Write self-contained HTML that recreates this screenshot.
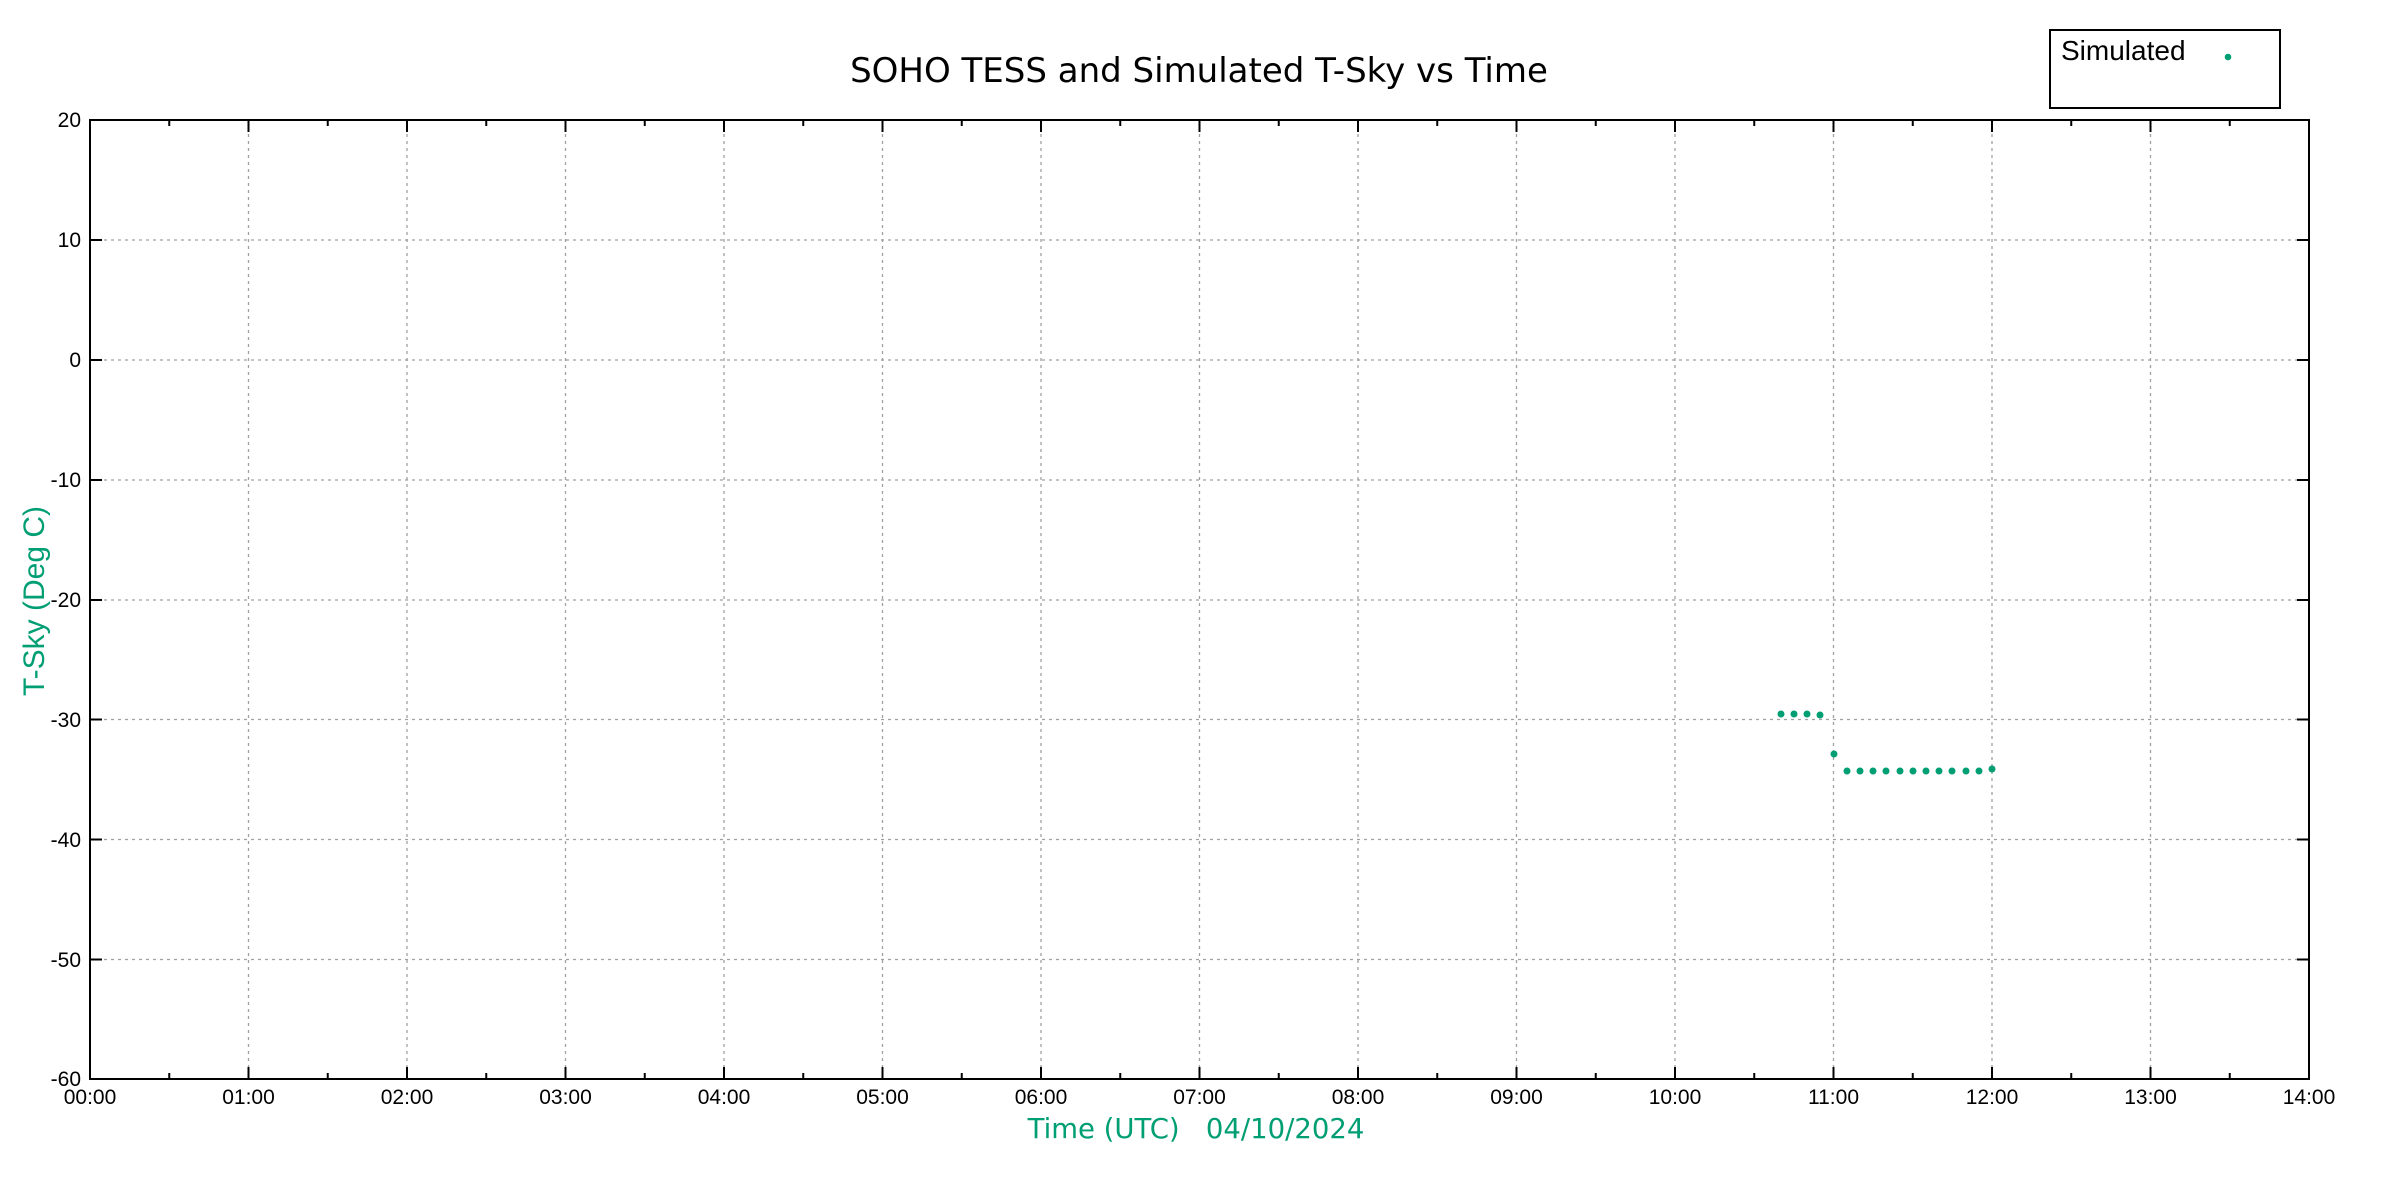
<!DOCTYPE html>
<html><head><meta charset="utf-8"><style>
html,body{margin:0;padding:0;background:#fff;}
svg{display:block;}
</style></head><body>
<svg width="2400" height="1200" xmlns="http://www.w3.org/2000/svg">
<rect width="2400" height="1200" fill="#fff"/>
<g stroke="#a0a0a0" stroke-width="1.3" stroke-dasharray="3,4">
<line x1="248.5" y1="120" x2="248.5" y2="1079"/>
<line x1="407" y1="120" x2="407" y2="1079"/>
<line x1="565.5" y1="120" x2="565.5" y2="1079"/>
<line x1="724" y1="120" x2="724" y2="1079"/>
<line x1="882.5" y1="120" x2="882.5" y2="1079"/>
<line x1="1041" y1="120" x2="1041" y2="1079"/>
<line x1="1199.5" y1="120" x2="1199.5" y2="1079"/>
<line x1="1358" y1="120" x2="1358" y2="1079"/>
<line x1="1516.5" y1="120" x2="1516.5" y2="1079"/>
<line x1="1675" y1="120" x2="1675" y2="1079"/>
<line x1="1833.5" y1="120" x2="1833.5" y2="1079"/>
<line x1="1992" y1="120" x2="1992" y2="1079"/>
<line x1="2150.5" y1="120" x2="2150.5" y2="1079"/>
<line x1="90" y1="240" x2="2309" y2="240"/>
<line x1="90" y1="360" x2="2309" y2="360"/>
<line x1="90" y1="480" x2="2309" y2="480"/>
<line x1="90" y1="600" x2="2309" y2="600"/>
<line x1="90" y1="719.5" x2="2309" y2="719.5"/>
<line x1="90" y1="839.5" x2="2309" y2="839.5"/>
<line x1="90" y1="959.5" x2="2309" y2="959.5"/>
</g>
<g stroke="#000" stroke-width="2">
<path d="M248.5 1079v-12M407 1079v-12M565.5 1079v-12M724 1079v-12M882.5 1079v-12M1041 1079v-12M1199.5 1079v-12M1358 1079v-12M1516.5 1079v-12M1675 1079v-12M1833.5 1079v-12M1992 1079v-12M2150.5 1079v-12
M248.5 120v12M407 120v12M565.5 120v12M724 120v12M882.5 120v12M1041 120v12M1199.5 120v12M1358 120v12M1516.5 120v12M1675 120v12M1833.5 120v12M1992 120v12M2150.5 120v12"/>
<path d="M169.25 1079v-6M327.75 1079v-6M486.25 1079v-6M644.75 1079v-6M803.25 1079v-6M961.75 1079v-6M1120.25 1079v-6M1278.75 1079v-6M1437.25 1079v-6M1595.75 1079v-6M1754.25 1079v-6M1912.75 1079v-6M2071.25 1079v-6M2229.75 1079v-6
M169.25 120v6M327.75 120v6M486.25 120v6M644.75 120v6M803.25 120v6M961.75 120v6M1120.25 120v6M1278.75 120v6M1437.25 120v6M1595.75 120v6M1754.25 120v6M1912.75 120v6M2071.25 120v6M2229.75 120v6"/>
<path d="M90 240h12M90 360h12M90 480h12M90 600h12M90 719.5h12M90 839.5h12M90 959.5h12
M2309 240h-12M2309 360h-12M2309 480h-12M2309 600h-12M2309 719.5h-12M2309 839.5h-12M2309 959.5h-12"/>
<rect x="90" y="120" width="2219" height="959" fill="none"/>
<rect x="2050" y="30" width="230" height="78" fill="none"/>
</g>
<g font-family="Liberation Sans, sans-serif" font-size="21" fill="#000" text-anchor="end">
<text x="81" y="127">20</text>
<text x="81" y="247">10</text>
<text x="81" y="367">0</text>
<text x="81" y="487">-10</text>
<text x="81" y="607">-20</text>
<text x="81" y="727">-30</text>
<text x="81" y="847">-40</text>
<text x="81" y="967">-50</text>
<text x="81" y="1086">-60</text>
</g>
<g font-family="Liberation Sans, sans-serif" font-size="21" fill="#000" text-anchor="middle">
<text x="90" y="1104">00:00</text>
<text x="248.5" y="1104">01:00</text>
<text x="407" y="1104">02:00</text>
<text x="565.5" y="1104">03:00</text>
<text x="724" y="1104">04:00</text>
<text x="882.5" y="1104">05:00</text>
<text x="1041" y="1104">06:00</text>
<text x="1199.5" y="1104">07:00</text>
<text x="1358" y="1104">08:00</text>
<text x="1516.5" y="1104">09:00</text>
<text x="1675" y="1104">10:00</text>
<text x="1833.5" y="1104">11:00</text>
<text x="1992" y="1104">12:00</text>
<text x="2150.5" y="1104">13:00</text>
<text x="2309" y="1104">14:00</text>
</g>
<text x="1199" y="82" text-anchor="middle" font-family="DejaVu Sans, sans-serif" font-size="34" fill="#000">SOHO TESS and Simulated T-Sky vs Time</text>
<text x="1196" y="1138" text-anchor="middle" font-family="DejaVu Sans, sans-serif" font-size="27.5" fill="#009e73" xml:space="preserve">Time (UTC)   04/10/2024</text>
<text transform="translate(44,601) rotate(-90)" text-anchor="middle" font-family="Liberation Sans, sans-serif" font-size="30" fill="#009e73">T-Sky (Deg C)</text>
<text x="2061" y="60" font-family="Liberation Sans, sans-serif" font-size="28" fill="#000">Simulated</text>
<g fill="#009e73">
<circle cx="2228" cy="57" r="3.3"/>
<circle cx="1781" cy="714" r="3.5"/>
<circle cx="1794" cy="714" r="3.5"/>
<circle cx="1807" cy="714" r="3.5"/>
<circle cx="1820" cy="715" r="3.5"/>
<circle cx="1834" cy="754" r="3.5"/>
<circle cx="1847" cy="771" r="3.5"/>
<circle cx="1860" cy="771" r="3.5"/>
<circle cx="1873" cy="771" r="3.5"/>
<circle cx="1886" cy="771" r="3.5"/>
<circle cx="1900" cy="771" r="3.5"/>
<circle cx="1913" cy="771" r="3.5"/>
<circle cx="1926" cy="771" r="3.5"/>
<circle cx="1939" cy="771" r="3.5"/>
<circle cx="1952" cy="771" r="3.5"/>
<circle cx="1966" cy="771" r="3.5"/>
<circle cx="1979" cy="771" r="3.5"/>
<circle cx="1992" cy="769" r="3.5"/>
</g>
</svg>
</body></html>
